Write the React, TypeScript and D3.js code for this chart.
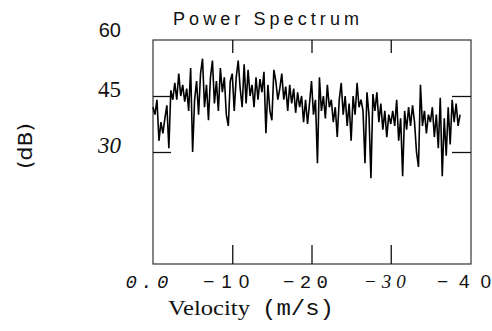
import { useEffect, useRef } from "react"
import * as d3 from "d3"

// power (dB) sampled every 0.25 m/s, starting at 0 and going negative
const VEL_STEP = -0.25
const power = [
  42, 40, 44, 33, 38, 35, 39, 42.5, 31, 46.5,
  44, 48.5, 44, 51, 45, 48, 43.5, 47, 41, 52.5,
  30, 44, 49, 40, 51, 55, 42, 48, 38.5, 50,
  54.5, 43, 49, 41, 52.5, 46, 50, 40, 37, 49,
  51, 41, 50, 54.5, 47, 42, 53.5, 43, 52, 45,
  48, 42, 50, 44, 49.5, 46, 51.5, 35, 48, 41,
  38.5, 52, 49, 44, 47, 51, 44, 47.5, 41, 48,
  43, 47, 40.5, 46, 42, 45, 38, 44, 37.5, 43,
  49, 40, 44, 27, 50, 41, 45, 39, 48, 42,
  44, 38, 42, 34, 44, 48.5, 40, 45, 37, 43,
  33, 45, 40, 48.5, 42, 44, 41, 27, 46, 40,
  23, 45.5, 41, 46, 38, 43, 36, 41, 34, 40,
  37.5, 41, 37, 44, 33, 39, 23.5, 41, 36, 42,
  37, 42.5, 38, 30, 26, 48, 37, 41, 35, 40,
  38, 42, 34, 40, 31, 44.5, 23.5, 39, 29, 42,
  32, 44, 38, 43, 37, 40,
]
const xTicks = [0, -10, -20, -30, -40]
const xTickLabels = ["0.0", "\u221210", "\u221220", "\u221230", "\u221240"]
const yTicks = [60, 45, 30]
const yTickLabels = ["60", "45", "30"]

// the scanned figure mixes fonts per label
const xLabelStyle = [
  { family: "Liberation Mono", style: "italic", len: 43 },
  { family: "Liberation Sans", style: "normal", len: 46 },
  { family: "Liberation Mono", style: "normal", len: 45 },
  { family: "Liberation Serif", style: "italic", len: 42 },
  { family: "Liberation Sans", style: "normal", len: 54 },
]
const yLabelStyle = [
  { family: "Liberation Sans", style: "normal", size: 20 },
  { family: "Liberation Serif", style: "normal", size: 23 },
  { family: "Liberation Serif", style: "italic", size: 23 },
]

export default function App() {
  const ref = useRef<SVGSVGElement>(null)
  useEffect(() => {
    if (!ref.current) return
    const svg = d3.select(ref.current)
    svg.selectAll("*").remove()
    const ink = "#111"

    const x = d3.scaleLinear().domain([0, -40]).range([153, 470])
    const y = d3.scaleLinear().domain([0, 60]).range([264, 40])
    const L = 153, R = 471, T = 40, B = 264

    // frame
    svg.append("rect").attr("x", L).attr("y", T).attr("width", R - L).attr("height", B - T)
      .attr("fill", "none").attr("stroke", "#333").attr("stroke-width", 1.2)

    const styleAxis = (g: any) => { g.select(".domain").remove(); g.selectAll("text").remove(); g.selectAll("line").style("stroke", ink).style("stroke-width", 1.3) }
    svg.append("g").attr("transform", `translate(0,${B})`)
      .call(d3.axisBottom(x).tickValues(xTicks.slice(1, 4)).tickSize(-19)).call(styleAxis)
    svg.append("g").attr("transform", `translate(0,${T})`)
      .call(d3.axisTop(x).tickValues(xTicks.slice(1, 4)).tickSize(-13)).call(styleAxis)
    svg.append("g").attr("transform", `translate(${L},0)`)
      .call(d3.axisLeft(y).tickValues(yTicks.slice(1)).tickSize(-18)).call(styleAxis)
    svg.append("g").attr("transform", `translate(${R},0)`)
      .call(d3.axisRight(y).tickValues(yTicks.slice(1)).tickSize(-19)).call(styleAxis)

    // spectrum trace
    const line = d3.line<number>().x((_, i) => x(i * VEL_STEP)).y(d => y(d))
    svg.append("path").datum(power).attr("d", line).attr("fill", "none")
      .attr("stroke", "#000").attr("stroke-width", 1.6).attr("stroke-linejoin", "miter")

    // tick labels
    xTicks.forEach((v, i) => {
      const s = xLabelStyle[i]
      svg.append("text").attr("x", x(v) - 6).attr("y", 288).attr("text-anchor", "middle")
        .attr("textLength", s.len).attr("lengthAdjust", "spacing")
        .style("font-family", s.family).style("font-style", s.style)
        .style("font-size", "19px").style("fill", ink)
        .text(xTickLabels[i])
    })
    yTicks.forEach((v, i) => {
      const s = yLabelStyle[i]
      svg.append("text").attr("x", 121).attr("y", y(v) + (i === 0 ? -3 : 1)).attr("text-anchor", "end")
        .style("font-family", s.family).style("font-style", s.style).style("font-size", `${s.size}px`).style("fill", ink)
        .text(yTickLabels[i])
    })

    // titles
    svg.append("text").attr("x", 173).attr("y", 25).attr("textLength", 186).attr("lengthAdjust", "spacing")
      .style("font-family", "Liberation Sans").style("font-size", "18px").style("fill", ink).text("Power Spectrum")
    svg.append("text").attr("x", 168).attr("y", 315).attr("textLength", 82).attr("lengthAdjust", "spacingAndGlyphs")
      .style("font-family", "Liberation Serif").style("font-size", "22px").style("fill", ink).text("Velocity")
    svg.append("text").attr("x", 262).attr("y", 315).attr("textLength", 72).attr("lengthAdjust", "spacingAndGlyphs")
      .style("font-family", "Liberation Mono").style("font-size", "22px").style("fill", ink).text("(m/s)")
    svg.append("text").attr("transform", "translate(32,146) rotate(-90)").attr("text-anchor", "middle")
      .attr("textLength", 46).attr("lengthAdjust", "spacingAndGlyphs")
      .style("font-family", "DejaVu Sans").style("font-size", "20px").style("fill", ink).text("(dB)")
  }, [])
  return <svg ref={ref} width={492} height={331} style={{ position: "absolute", left: 0, top: 0, background: "#fff" }} />
}
